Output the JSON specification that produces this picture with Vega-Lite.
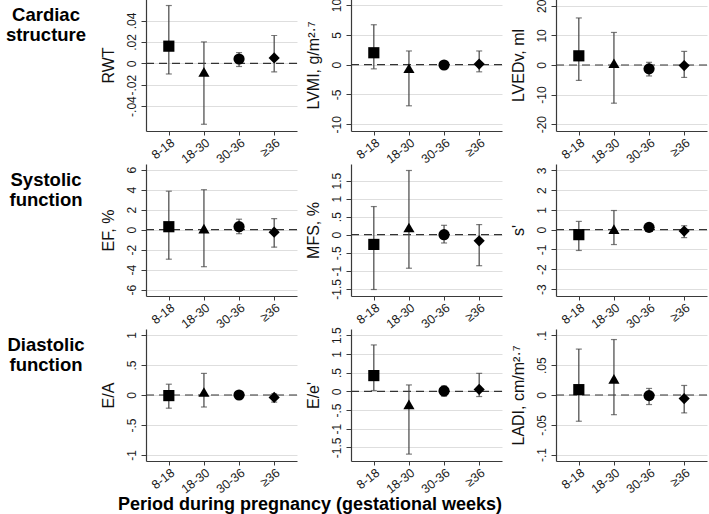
{
  "$schema": "https://vega.github.io/schema/vega-lite/v6.json",
  "padding": {"left": 0, "top": -2, "right": 0, "bottom": 0},
  "background": "white",
  "bounds": "flush",
  "columns": 4,
  "spacing": {"row": 33, "column": 54},
  "config": {
    "font": "Liberation Sans",
    "view": {"stroke": null},
    "axis": {"domainColor": "#3a3a3a", "tickColor": "#3a3a3a", "labelColor": "#1a1a1a", "labelFont": "Liberation Sans", "labelFontSize": 12, "titleFont": "Liberation Sans", "titleFontWeight": "normal", "titleFontSize": 16, "titleColor": "#111111", "tickSize": 5, "gridColor": "#dedede", "domainWidth": 1.2},
    "axisX": {"grid": false, "labelAngle": -38, "labelFontSize": 12.5, "labelPadding": 1, "tickSize": 4, "labelAlign": "right", "labelBaseline": "top"},
    "axisY": {"grid": true, "labelAngle": -90, "labelPadding": 3, "titlePadding": 9, "labelExpr": "replace(datum.value + '', '0.', '.')"}
  },
  "datasets": {
    "d": [
      {"m": "RWT", "p": "8-18", "est": 0.016, "lo": -0.010, "hi": 0.054},
      {"m": "RWT", "p": "18-30", "est": -0.008, "lo": -0.057, "hi": 0.020},
      {"m": "RWT", "p": "30-36", "est": 0.004, "lo": -0.003, "hi": 0.010},
      {"m": "RWT", "p": "≥36", "est": 0.005, "lo": -0.008, "hi": 0.026},
      {"m": "LVMI", "p": "8-18", "est": 2.0, "lo": -0.7, "hi": 6.7},
      {"m": "LVMI", "p": "18-30", "est": -0.6, "lo": -6.9, "hi": 2.3},
      {"m": "LVMI", "p": "30-36", "est": -0.05, "lo": -0.4, "hi": 0.3},
      {"m": "LVMI", "p": "≥36", "est": 0.1, "lo": -1.2, "hi": 2.3},
      {"m": "LVEDv", "p": "8-18", "est": 3.1, "lo": -5.2, "hi": 15.9},
      {"m": "LVEDv", "p": "18-30", "est": 0.6, "lo": -12.9, "hi": 11.0},
      {"m": "LVEDv", "p": "30-36", "est": -1.3, "lo": -3.7, "hi": 0.9},
      {"m": "LVEDv", "p": "≥36", "est": -0.2, "lo": -4.2, "hi": 4.6},
      {"m": "EF", "p": "8-18", "est": 0.3, "lo": -2.95, "hi": 3.85},
      {"m": "EF", "p": "18-30", "est": 0.1, "lo": -3.7, "hi": 4.0},
      {"m": "EF", "p": "30-36", "est": 0.3, "lo": -0.4, "hi": 1.05},
      {"m": "EF", "p": "≥36", "est": -0.25, "lo": -1.75, "hi": 1.1},
      {"m": "MFS", "p": "8-18", "est": -0.27, "lo": -1.52, "hi": 0.78},
      {"m": "MFS", "p": "18-30", "est": 0.2, "lo": -0.93, "hi": 1.78},
      {"m": "MFS", "p": "30-36", "est": 0.0, "lo": -0.23, "hi": 0.26},
      {"m": "MFS", "p": "≥36", "est": -0.17, "lo": -0.86, "hi": 0.28},
      {"m": "s", "p": "8-18", "est": -0.25, "lo": -1.05, "hi": 0.42},
      {"m": "s", "p": "18-30", "est": 0.03, "lo": -0.75, "hi": 0.97},
      {"m": "s", "p": "30-36", "est": 0.12, "lo": -0.05, "hi": 0.25},
      {"m": "s", "p": "≥36", "est": -0.07, "lo": -0.4, "hi": 0.2},
      {"m": "EA", "p": "8-18", "est": -0.01, "lo": -0.22, "hi": 0.18},
      {"m": "EA", "p": "18-30", "est": 0.05, "lo": -0.2, "hi": 0.36},
      {"m": "EA", "p": "30-36", "est": 0.0, "lo": -0.05, "hi": 0.05},
      {"m": "EA", "p": "≥36", "est": -0.04, "lo": -0.12, "hi": 0.02},
      {"m": "Ee", "p": "8-18", "est": 0.42, "lo": 0.02, "hi": 1.24},
      {"m": "Ee", "p": "18-30", "est": -0.35, "lo": -1.68, "hi": 0.17},
      {"m": "Ee", "p": "30-36", "est": 0.01, "lo": -0.13, "hi": 0.14},
      {"m": "Ee", "p": "≥36", "est": 0.05, "lo": -0.14, "hi": 0.48},
      {"m": "LADI", "p": "8-18", "est": 0.009, "lo": -0.044, "hi": 0.077},
      {"m": "LADI", "p": "18-30", "est": 0.027, "lo": -0.033, "hi": 0.093},
      {"m": "LADI", "p": "30-36", "est": -0.001, "lo": -0.016, "hi": 0.011},
      {"m": "LADI", "p": "≥36", "est": -0.006, "lo": -0.030, "hi": 0.016}
    ]
  },
  "title": {"text": "Period during pregnancy (gestational weeks)", "orient": "bottom", "anchor": "start", "dx": 118, "offset": 0, "fontSize": 18, "font": "Liberation Sans", "fontWeight": "bold", "color": "#000000"},
  "concat": [
    {"width": 92, "height": 32, "data": {"values": [{"label": "Cardiac\nstructure"}]}, "mark": {"type": "text", "lineBreak": "\n", "fontSize": 18.5, "fontWeight": "bold", "font": "Liberation Sans", "lineHeight": 20, "color": "#000000"}, "encoding": {"text": {"field": "label"}}},
    {"width": 151, "height": 132, "data": {"name": "d"}, "transform": [{"filter": "datum.m === 'RWT'"}],
     "layer": [
      {"data": {"values": [{}]}, "mark": {"type": "rule", "strokeDash": [8, 5], "color": "#333333", "strokeWidth": 1.2}, "encoding": {"y": {"datum": 0, "type": "quantitative", "scale": {"domain": [-0.0633, 0.0601], "nice": false, "zero": false}, "axis": {"values": [-0.04, -0.02, 0, 0.02, 0.04], "title": "RWT"}}}},
      {"mark": {"type": "errorbar", "ticks": {"size": 6}, "color": "#444444", "thickness": 1.2}, "encoding": {"x": {"field": "p", "type": "ordinal", "sort": ["8-18", "18-30", "30-36", "≥36"], "scale": {"type": "point", "padding": 0.65}, "axis": {"title": null}}, "y": {"field": "lo", "type": "quantitative", "title": "RWT", "axis": {"values": [-0.04, -0.02, 0, 0.02, 0.04], "title": "RWT"}}, "y2": {"field": "hi"}}},
      {"mark": {"type": "point", "filled": true, "color": "#000000", "size": 125, "opacity": 1}, "encoding": {"x": {"field": "p", "type": "ordinal", "sort": ["8-18", "18-30", "30-36", "≥36"], "scale": {"type": "point", "padding": 0.65}, "axis": {"title": null}}, "y": {"field": "est", "type": "quantitative", "title": "RWT", "axis": {"values": [-0.04, -0.02, 0, 0.02, 0.04], "title": "RWT"}}, "shape": {"field": "p", "type": "nominal", "scale": {"domain": ["8-18", "18-30", "30-36", "≥36"], "range": ["square", "triangle-up", "circle", "diamond"]}, "legend": null}}}
     ]},
    {"width": 151, "height": 132, "data": {"name": "d"}, "transform": [{"filter": "datum.m === 'LVMI'"}],
     "layer": [
      {"data": {"values": [{}]}, "mark": {"type": "rule", "strokeDash": [8, 5], "color": "#333333", "strokeWidth": 1.2}, "encoding": {"y": {"datum": 0, "type": "quantitative", "scale": {"domain": [-11.13, 11.02], "nice": false, "zero": false}, "axis": {"values": [-10, -5, 0, 5, 10], "title": "LVMI, g/m²·⁷"}}}},
      {"mark": {"type": "errorbar", "ticks": {"size": 6}, "color": "#444444", "thickness": 1.2}, "encoding": {"x": {"field": "p", "type": "ordinal", "sort": ["8-18", "18-30", "30-36", "≥36"], "scale": {"type": "point", "padding": 0.65}, "axis": {"title": null}}, "y": {"field": "lo", "type": "quantitative", "title": "LVMI, g/m²·⁷", "axis": {"values": [-10, -5, 0, 5, 10], "title": "LVMI, g/m²·⁷"}}, "y2": {"field": "hi"}}},
      {"mark": {"type": "point", "filled": true, "color": "#000000", "size": 125, "opacity": 1}, "encoding": {"x": {"field": "p", "type": "ordinal", "sort": ["8-18", "18-30", "30-36", "≥36"], "scale": {"type": "point", "padding": 0.65}, "axis": {"title": null}}, "y": {"field": "est", "type": "quantitative", "title": "LVMI, g/m²·⁷", "axis": {"values": [-10, -5, 0, 5, 10], "title": "LVMI, g/m²·⁷"}}, "shape": {"field": "p", "type": "nominal", "scale": {"domain": ["8-18", "18-30", "30-36", "≥36"], "range": ["square", "triangle-up", "circle", "diamond"]}, "legend": null}}}
     ]},
    {"width": 151, "height": 132, "data": {"name": "d"}, "transform": [{"filter": "datum.m === 'LVEDv'"}],
     "layer": [
      {"data": {"values": [{}]}, "mark": {"type": "rule", "strokeDash": [8, 5], "color": "#333333", "strokeWidth": 1.2}, "encoding": {"y": {"datum": 0, "type": "quantitative", "scale": {"domain": [-22.3, 22.3], "nice": false, "zero": false}, "axis": {"values": [-20, -10, 0, 10, 20], "title": "LVEDv, ml"}}}},
      {"mark": {"type": "errorbar", "ticks": {"size": 6}, "color": "#444444", "thickness": 1.2}, "encoding": {"x": {"field": "p", "type": "ordinal", "sort": ["8-18", "18-30", "30-36", "≥36"], "scale": {"type": "point", "padding": 0.65}, "axis": {"title": null}}, "y": {"field": "lo", "type": "quantitative", "title": "LVEDv, ml", "axis": {"values": [-20, -10, 0, 10, 20], "title": "LVEDv, ml"}}, "y2": {"field": "hi"}}},
      {"mark": {"type": "point", "filled": true, "color": "#000000", "size": 125, "opacity": 1}, "encoding": {"x": {"field": "p", "type": "ordinal", "sort": ["8-18", "18-30", "30-36", "≥36"], "scale": {"type": "point", "padding": 0.65}, "axis": {"title": null}}, "y": {"field": "est", "type": "quantitative", "title": "LVEDv, ml", "axis": {"values": [-20, -10, 0, 10, 20], "title": "LVEDv, ml"}}, "shape": {"field": "p", "type": "nominal", "scale": {"domain": ["8-18", "18-30", "30-36", "≥36"], "range": ["square", "triangle-up", "circle", "diamond"]}, "legend": null}}}
     ]},
    {"width": 92, "height": 32, "data": {"values": [{"label": "Systolic\nfunction"}]}, "mark": {"type": "text", "lineBreak": "\n", "fontSize": 18.5, "fontWeight": "bold", "font": "Liberation Sans", "lineHeight": 20, "color": "#000000"}, "encoding": {"text": {"field": "label"}}},
    {"width": 151, "height": 132, "data": {"name": "d"}, "transform": [{"filter": "datum.m === 'EF'"}],
     "layer": [
      {"data": {"values": [{}]}, "mark": {"type": "rule", "strokeDash": [8, 5], "color": "#333333", "strokeWidth": 1.2}, "encoding": {"y": {"datum": 0, "type": "quantitative", "scale": {"domain": [-6.63, 6.57], "nice": false, "zero": false}, "axis": {"values": [-6, -4, -2, 0, 2, 4, 6], "title": "EF, %"}}}},
      {"mark": {"type": "errorbar", "ticks": {"size": 6}, "color": "#444444", "thickness": 1.2}, "encoding": {"x": {"field": "p", "type": "ordinal", "sort": ["8-18", "18-30", "30-36", "≥36"], "scale": {"type": "point", "padding": 0.65}, "axis": {"title": null}}, "y": {"field": "lo", "type": "quantitative", "title": "EF, %", "axis": {"values": [-6, -4, -2, 0, 2, 4, 6], "title": "EF, %"}}, "y2": {"field": "hi"}}},
      {"mark": {"type": "point", "filled": true, "color": "#000000", "size": 125, "opacity": 1}, "encoding": {"x": {"field": "p", "type": "ordinal", "sort": ["8-18", "18-30", "30-36", "≥36"], "scale": {"type": "point", "padding": 0.65}, "axis": {"title": null}}, "y": {"field": "est", "type": "quantitative", "title": "EF, %", "axis": {"values": [-6, -4, -2, 0, 2, 4, 6], "title": "EF, %"}}, "shape": {"field": "p", "type": "nominal", "scale": {"domain": ["8-18", "18-30", "30-36", "≥36"], "range": ["square", "triangle-up", "circle", "diamond"]}, "legend": null}}}
     ]},
    {"width": 151, "height": 132, "data": {"name": "d"}, "transform": [{"filter": "datum.m === 'MFS'"}],
     "layer": [
      {"data": {"values": [{}]}, "mark": {"type": "rule", "strokeDash": [8, 5], "color": "#333333", "strokeWidth": 1.2}, "encoding": {"y": {"datum": 0, "type": "quantitative", "scale": {"domain": [-1.70, 1.96], "nice": false, "zero": false}, "axis": {"values": [-1.5, -1, -0.5, 0, 0.5, 1, 1.5], "title": "MFS, %"}}}},
      {"mark": {"type": "errorbar", "ticks": {"size": 6}, "color": "#444444", "thickness": 1.2}, "encoding": {"x": {"field": "p", "type": "ordinal", "sort": ["8-18", "18-30", "30-36", "≥36"], "scale": {"type": "point", "padding": 0.65}, "axis": {"title": null}}, "y": {"field": "lo", "type": "quantitative", "title": "MFS, %", "axis": {"values": [-1.5, -1, -0.5, 0, 0.5, 1, 1.5], "title": "MFS, %"}}, "y2": {"field": "hi"}}},
      {"mark": {"type": "point", "filled": true, "color": "#000000", "size": 125, "opacity": 1}, "encoding": {"x": {"field": "p", "type": "ordinal", "sort": ["8-18", "18-30", "30-36", "≥36"], "scale": {"type": "point", "padding": 0.65}, "axis": {"title": null}}, "y": {"field": "est", "type": "quantitative", "title": "MFS, %", "axis": {"values": [-1.5, -1, -0.5, 0, 0.5, 1, 1.5], "title": "MFS, %"}}, "shape": {"field": "p", "type": "nominal", "scale": {"domain": ["8-18", "18-30", "30-36", "≥36"], "range": ["square", "triangle-up", "circle", "diamond"]}, "legend": null}}}
     ]},
    {"width": 151, "height": 132, "data": {"name": "d"}, "transform": [{"filter": "datum.m === 's'"}],
     "layer": [
      {"data": {"values": [{}]}, "mark": {"type": "rule", "strokeDash": [8, 5], "color": "#333333", "strokeWidth": 1.2}, "encoding": {"y": {"datum": 0, "type": "quantitative", "scale": {"domain": [-3.35, 3.32], "nice": false, "zero": false}, "axis": {"values": [-3, -2, -1, 0, 1, 2, 3], "title": "s'"}}}},
      {"mark": {"type": "errorbar", "ticks": {"size": 6}, "color": "#444444", "thickness": 1.2}, "encoding": {"x": {"field": "p", "type": "ordinal", "sort": ["8-18", "18-30", "30-36", "≥36"], "scale": {"type": "point", "padding": 0.65}, "axis": {"title": null}}, "y": {"field": "lo", "type": "quantitative", "title": "s'", "axis": {"values": [-3, -2, -1, 0, 1, 2, 3], "title": "s'"}}, "y2": {"field": "hi"}}},
      {"mark": {"type": "point", "filled": true, "color": "#000000", "size": 125, "opacity": 1}, "encoding": {"x": {"field": "p", "type": "ordinal", "sort": ["8-18", "18-30", "30-36", "≥36"], "scale": {"type": "point", "padding": 0.65}, "axis": {"title": null}}, "y": {"field": "est", "type": "quantitative", "title": "s'", "axis": {"values": [-3, -2, -1, 0, 1, 2, 3], "title": "s'"}}, "shape": {"field": "p", "type": "nominal", "scale": {"domain": ["8-18", "18-30", "30-36", "≥36"], "range": ["square", "triangle-up", "circle", "diamond"]}, "legend": null}}}
     ]},
    {"width": 92, "height": 32, "data": {"values": [{"label": "Diastolic\nfunction"}]}, "mark": {"type": "text", "lineBreak": "\n", "fontSize": 18.5, "fontWeight": "bold", "font": "Liberation Sans", "lineHeight": 20, "color": "#000000"}, "encoding": {"text": {"field": "label"}}},
    {"width": 151, "height": 132, "data": {"name": "d"}, "transform": [{"filter": "datum.m === 'EA'"}],
     "layer": [
      {"data": {"values": [{}]}, "mark": {"type": "rule", "strokeDash": [8, 5], "color": "#333333", "strokeWidth": 1.2}, "encoding": {"y": {"datum": 0, "type": "quantitative", "scale": {"domain": [-1.1, 1.1], "nice": false, "zero": false}, "axis": {"values": [-1, -0.5, 0, 0.5, 1], "title": "E/A"}}}},
      {"mark": {"type": "errorbar", "ticks": {"size": 6}, "color": "#444444", "thickness": 1.2}, "encoding": {"x": {"field": "p", "type": "ordinal", "sort": ["8-18", "18-30", "30-36", "≥36"], "scale": {"type": "point", "padding": 0.65}, "axis": {"title": null}}, "y": {"field": "lo", "type": "quantitative", "title": "E/A", "axis": {"values": [-1, -0.5, 0, 0.5, 1], "title": "E/A"}}, "y2": {"field": "hi"}}},
      {"mark": {"type": "point", "filled": true, "color": "#000000", "size": 125, "opacity": 1}, "encoding": {"x": {"field": "p", "type": "ordinal", "sort": ["8-18", "18-30", "30-36", "≥36"], "scale": {"type": "point", "padding": 0.65}, "axis": {"title": null}}, "y": {"field": "est", "type": "quantitative", "title": "E/A", "axis": {"values": [-1, -0.5, 0, 0.5, 1], "title": "E/A"}}, "shape": {"field": "p", "type": "nominal", "scale": {"domain": ["8-18", "18-30", "30-36", "≥36"], "range": ["square", "triangle-up", "circle", "diamond"]}, "legend": null}}}
     ]},
    {"width": 151, "height": 132, "data": {"name": "d"}, "transform": [{"filter": "datum.m === 'Ee'"}],
     "layer": [
      {"data": {"values": [{}]}, "mark": {"type": "rule", "strokeDash": [8, 5], "color": "#333333", "strokeWidth": 1.2}, "encoding": {"y": {"datum": 0, "type": "quantitative", "scale": {"domain": [-1.864, 1.666], "nice": false, "zero": false}, "axis": {"values": [-1.5, -1, -0.5, 0, 0.5, 1, 1.5], "title": "E/e'"}}}},
      {"mark": {"type": "errorbar", "ticks": {"size": 6}, "color": "#444444", "thickness": 1.2}, "encoding": {"x": {"field": "p", "type": "ordinal", "sort": ["8-18", "18-30", "30-36", "≥36"], "scale": {"type": "point", "padding": 0.65}, "axis": {"title": null}}, "y": {"field": "lo", "type": "quantitative", "title": "E/e'", "axis": {"values": [-1.5, -1, -0.5, 0, 0.5, 1, 1.5], "title": "E/e'"}}, "y2": {"field": "hi"}}},
      {"mark": {"type": "point", "filled": true, "color": "#000000", "size": 125, "opacity": 1}, "encoding": {"x": {"field": "p", "type": "ordinal", "sort": ["8-18", "18-30", "30-36", "≥36"], "scale": {"type": "point", "padding": 0.65}, "axis": {"title": null}}, "y": {"field": "est", "type": "quantitative", "title": "E/e'", "axis": {"values": [-1.5, -1, -0.5, 0, 0.5, 1, 1.5], "title": "E/e'"}}, "shape": {"field": "p", "type": "nominal", "scale": {"domain": ["8-18", "18-30", "30-36", "≥36"], "range": ["square", "triangle-up", "circle", "diamond"]}, "legend": null}}}
     ]},
    {"width": 151, "height": 132, "data": {"name": "d"}, "transform": [{"filter": "datum.m === 'LADI'"}],
     "layer": [
      {"data": {"values": [{}]}, "mark": {"type": "rule", "strokeDash": [8, 5], "color": "#333333", "strokeWidth": 1.2}, "encoding": {"y": {"datum": 0, "type": "quantitative", "scale": {"domain": [-0.1107, 0.1107], "nice": false, "zero": false}, "axis": {"values": [-0.1, -0.05, 0, 0.05, 0.1], "title": "LADI, cm/m²·⁷"}}}},
      {"mark": {"type": "errorbar", "ticks": {"size": 6}, "color": "#444444", "thickness": 1.2}, "encoding": {"x": {"field": "p", "type": "ordinal", "sort": ["8-18", "18-30", "30-36", "≥36"], "scale": {"type": "point", "padding": 0.65}, "axis": {"title": null}}, "y": {"field": "lo", "type": "quantitative", "title": "LADI, cm/m²·⁷", "axis": {"values": [-0.1, -0.05, 0, 0.05, 0.1], "title": "LADI, cm/m²·⁷"}}, "y2": {"field": "hi"}}},
      {"mark": {"type": "point", "filled": true, "color": "#000000", "size": 125, "opacity": 1}, "encoding": {"x": {"field": "p", "type": "ordinal", "sort": ["8-18", "18-30", "30-36", "≥36"], "scale": {"type": "point", "padding": 0.65}, "axis": {"title": null}}, "y": {"field": "est", "type": "quantitative", "title": "LADI, cm/m²·⁷", "axis": {"values": [-0.1, -0.05, 0, 0.05, 0.1], "title": "LADI, cm/m²·⁷"}}, "shape": {"field": "p", "type": "nominal", "scale": {"domain": ["8-18", "18-30", "30-36", "≥36"], "range": ["square", "triangle-up", "circle", "diamond"]}, "legend": null}}}
     ]}
  ]
}
